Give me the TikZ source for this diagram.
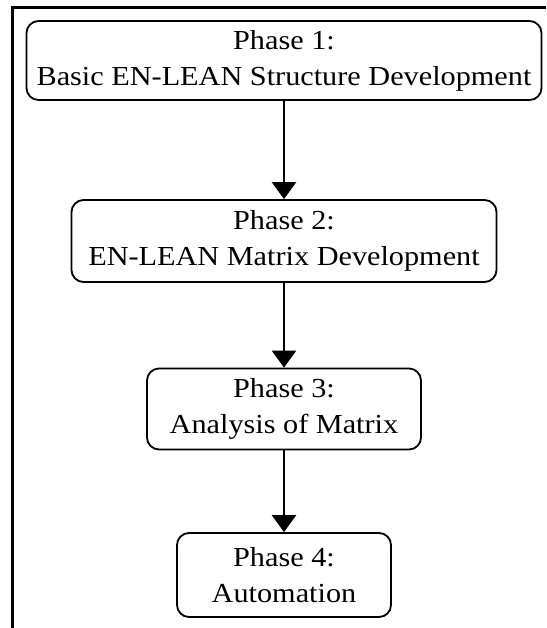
\documentclass[tikz,border=0pt]{standalone}
\usepackage{fontspec}
\setmainfont{Liberation Serif}[FakeStretch=1.1]
\usetikzlibrary{arrows.meta}

\begin{document}
\begin{tikzpicture}[x=1pt,y=-1pt,
  phase/.style={draw,line width=1.8pt,rounded corners=12pt,align=center,
    inner sep=0pt,minimum height=80pt,
    font=\fontsize{27.5}{36}\selectfont},
  flow/.style={line width=2.6pt,-{Triangle[width=24pt,length=17pt]}}]
\useasboundingbox (0,0) rectangle (546,628);
% frame
\draw[line width=3pt] (12.5,628) -- (12.5,8) -- (546,8);
% phases
\node[phase,minimum width=515pt,minimum height=79pt] (phase1) at (284,60.5) {Phase 1:\\Basic EN-LEAN Structure Development};
\node[phase,minimum width=425pt,minimum height=82pt] (phase2) at (284,241) {Phase 2:\\EN-LEAN Matrix Development};
\node[phase,minimum width=274pt,minimum height=81pt] (phase3) at (284,409) {Phase 3:\\Analysis of Matrix};
\node[phase,minimum width=214pt,minimum height=84pt] (phase4) at (284,575) {Phase 4:\\Automation};
% arrows
\draw[flow] (phase1.south) -- (phase2.north);
\draw[flow] (phase2.south) -- (phase3.north);
\draw[flow] (phase3.south) -- (phase4.north);
\end{tikzpicture}
\end{document}
